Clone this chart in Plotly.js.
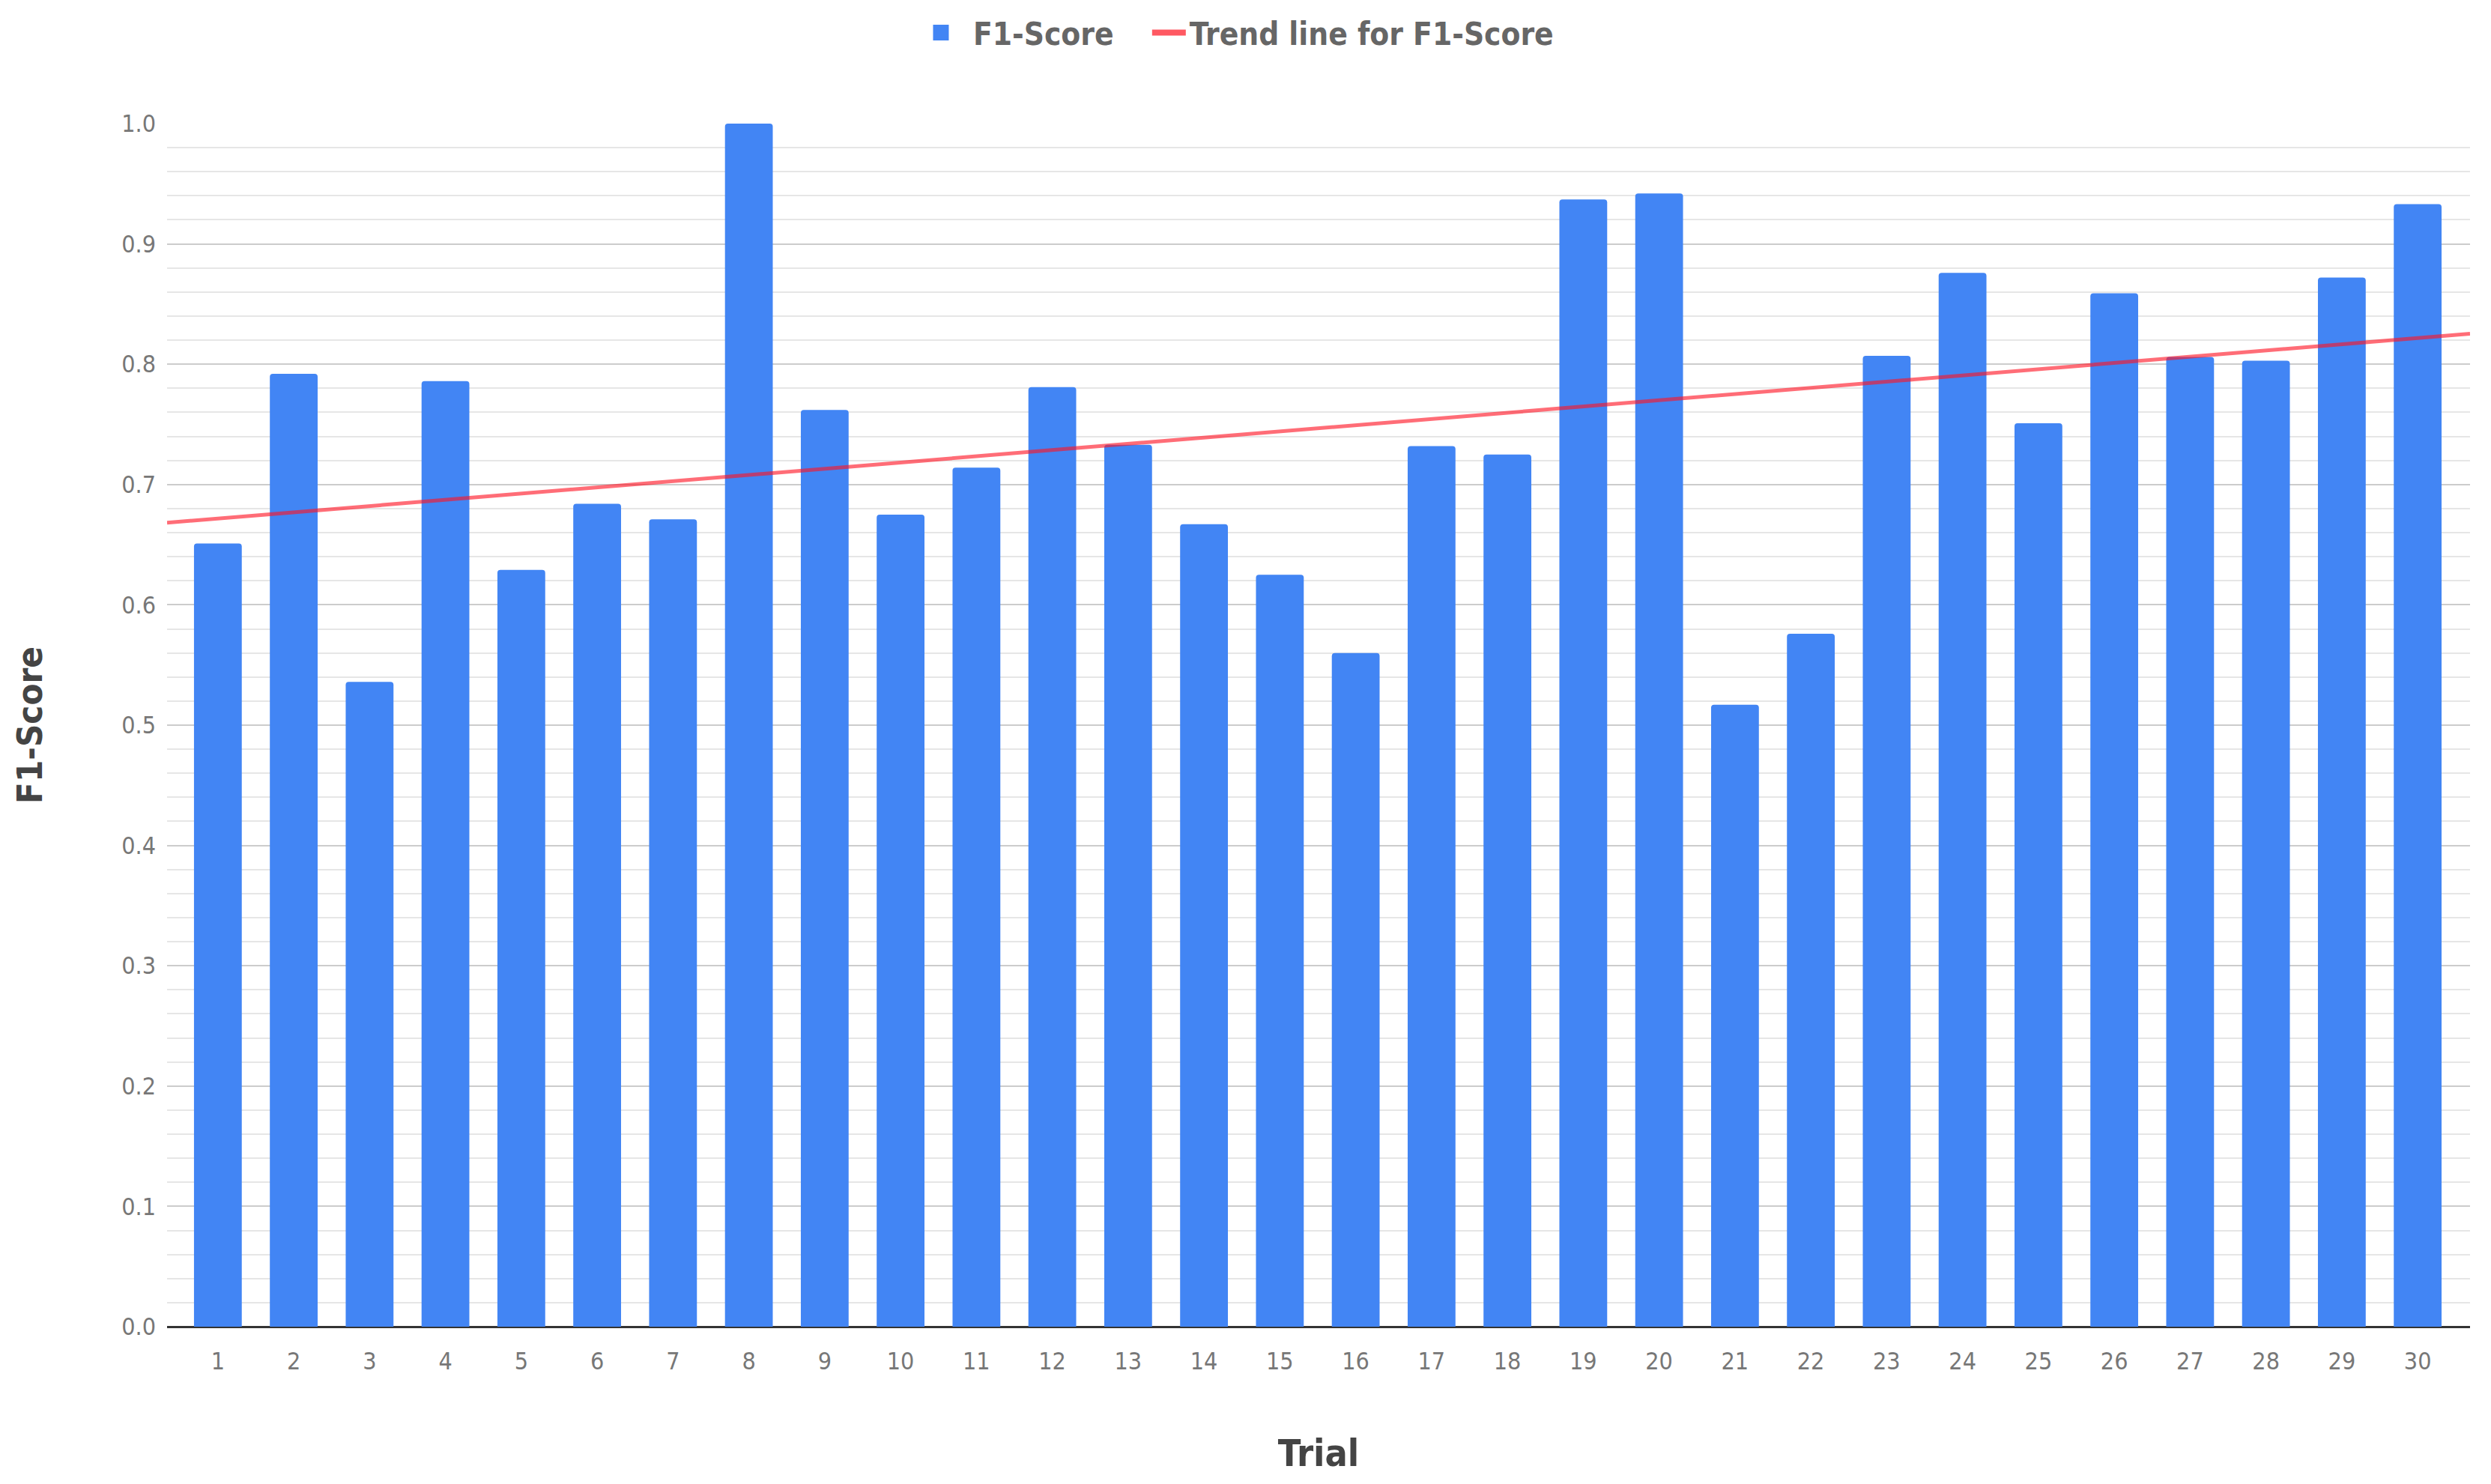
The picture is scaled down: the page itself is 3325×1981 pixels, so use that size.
<!DOCTYPE html>
<html>
<head>
<meta charset="utf-8">
<script src="https://cdn.plot.ly/plotly-3.0.1.min.js"></script>
<style>
html,body{margin:0;padding:0;background:#fff;}
#chart{width:3325px;height:1981px;}
</style>
</head>
<body>
<div id="chart"></div>
<script>
const trials = [1,2,3,4,5,6,7,8,9,10,11,12,13,14,15,16,17,18,19,20,21,22,23,24,25,26,27,28,29,30];
const f1Scores = [0.651,0.792,0.536,0.786,0.629,0.684,0.671,1.000,0.762,0.675,
                  0.714,0.781,0.733,0.667,0.625,0.560,0.732,0.725,0.937,0.942,
                  0.517,0.576,0.807,0.876,0.751,0.859,0.806,0.803,0.872,0.933];
const barName = "F1-Score";
const trendName = "Trend line for F1-Score";
const xTitle = "Trial";
const yTitle = "F1-Score";

const BLUE = '#4285F4';
const TREND = 'rgba(255,20,35,0.62)';

// least-squares linear trend of the F1 scores
const n = trials.length;
const mx = trials.reduce((a,b)=>a+b,0)/n;
const my = f1Scores.reduce((a,b)=>a+b,0)/n;
let sxy = 0, sxx = 0;
for (let i=0;i<n;i++){ sxy += (trials[i]-mx)*(f1Scores[i]-my); sxx += (trials[i]-mx)*(trials[i]-mx); }
const slope = sxy/sxx, intercept = my - slope*mx;
// axis padding around the first/last category (chart-area edges)
const xLo = Math.min(...trials) - 0.67, xHi = Math.max(...trials) + 0.69;
const trendX = [xLo, xHi];
const trendY = trendX.map(x => intercept + slope*x);

const FONT = '"DejaVu Sans Condensed", "DejaVu Sans", sans-serif';
const LEGEND_FONT = {family: FONT, size: 42, color: '#666', weight: 'bold'};

const data = [
  {
    type: 'bar', x: trials, y: f1Scores, name: barName, showlegend: false,
    marker: {color: BLUE, cornerradius: 4, line: {width: 0}},
    hoverinfo: 'x+y'
  },
  {
    type: 'scatter', mode: 'lines', x: trendX, y: trendY, name: trendName, showlegend: false,
    line: {color: TREND, width: 5}
  },
  // legend entries (larger swatches, like the reference legend)
  {
    type: 'scatter', mode: 'markers', x: [null], y: [null], name: barName, legend: 'legend',
    marker: {symbol: 'square', color: BLUE, size: 16, line: {color: BLUE, width: 8}}
  },
  {
    type: 'scatter', mode: 'lines', x: [null], y: [null], name: trendName, legend: 'legend2',
    line: {color: 'rgba(255,60,70,0.85)', width: 8}
  }
];

const layout = {
  width: 3325, height: 1981,
  paper_bgcolor: '#fff', plot_bgcolor: '#fff',
  margin: {l: 223, r: 28, t: 165, b: 210},
  bargap: 0.37,
  font: {family: FONT, color: '#666', size: 32},
  showlegend: true,
  legend: {
    orientation: 'h', xref: 'container', yref: 'container',
    x: 0.3648, y: 0.978, xanchor: 'left', yanchor: 'middle',
    font: LEGEND_FONT, itemwidth: 76
  },
  legend2: {
    orientation: 'h', xref: 'container', yref: 'container',
    x: 0.461, y: 0.978, xanchor: 'left', yanchor: 'middle',
    font: LEGEND_FONT, itemwidth: 45
  },
  xaxis: {
    range: [xLo, xHi], tickvals: trials, ticktext: trials.map(String),
    showgrid: false, zeroline: false, showline: false, ticks: '',
    ticklabelstandoff: 24,
    tickfont: {family: FONT, size: 32, color: '#777'},
    title: {text: xTitle, standoff: 86, font: {family: FONT, size: 50, color: '#444', weight: 'bold'}},
    fixedrange: true
  },
  yaxis: {
    range: [0, 1], dtick: 0.1, tick0: 0, tickformat: '.1f',
    showgrid: true, gridcolor: '#cccccc', gridwidth: 2,
    minor: {dtick: 0.02, showgrid: true, gridcolor: '#e6e6e6', gridwidth: 2},
    zeroline: true, zerolinecolor: '#333333', zerolinewidth: 3,
    showline: false, ticks: '',
    ticklabelstandoff: 14,
    tickfont: {family: FONT, size: 32, color: '#777'},
    title: {text: yTitle, standoff: 90, font: {family: FONT, size: 47, color: '#444', weight: 'bold'}},
    fixedrange: true
  }
};

Plotly.newPlot('chart', data, layout, {displayModeBar: false, staticPlot: true});
</script>
</body>
</html>
